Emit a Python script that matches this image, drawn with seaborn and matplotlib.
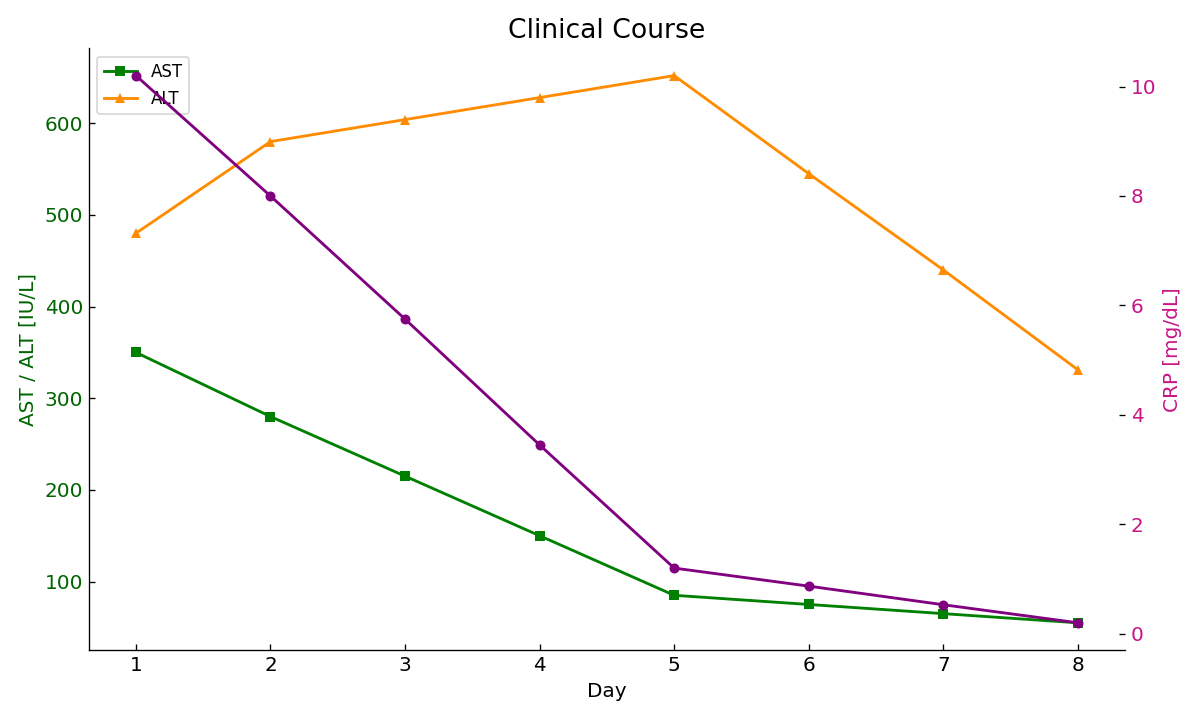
import matplotlib
matplotlib.use("Agg")
import matplotlib.pyplot as plt
import seaborn as sns
import pandas as pd

days = [1, 2, 3, 4, 5, 6, 7, 8]
ast = [350, 280, 215, 150, 85, 75, 65, 55]
alt = [480, 580, 604, 628, 652, 545, 440, 331]
crp = [10.2, 8.0, 5.75, 3.45, 1.2, 0.87, 0.53, 0.2]

df = pd.DataFrame({"Day": days, "AST": ast, "ALT": alt, "CRP": crp})

plt.rcParams['font.family'] = ['DejaVu Sans']
fig = plt.figure(figsize=(10, 6), dpi=120)
ax1 = fig.add_axes([0.074, 0.097, 0.8635, 0.836])
ax2 = ax1.twinx()

sns.lineplot(data=df, x="Day", y="AST", ax=ax1, color="green", marker="s",
             markersize=6, linewidth=1.7, markeredgewidth=0, label="AST")
sns.lineplot(data=df, x="Day", y="ALT", ax=ax1, color="darkorange", marker="^",
             markersize=6, linewidth=1.7, markeredgewidth=0, label="ALT")
sns.lineplot(data=df, x="Day", y="CRP", ax=ax2, color="purple", marker="o",
             markersize=6, linewidth=1.7, markeredgewidth=0, legend=False)

ax1.set_xlabel("Day", fontsize=12)
ax1.set_ylabel("AST / ALT [IU/L]", fontsize=12, color="darkgreen")
ax2.set_ylabel("CRP [mg/dL]", fontsize=12, color="mediumvioletred")
ax1.set_title("Clinical Course", fontsize=16)

ax1.set_xticks(days)
ax1.tick_params(axis="both", direction="in", labelsize=12)
ax1.tick_params(axis="y", labelcolor="darkgreen")
ax2.tick_params(axis="y", direction="in", labelsize=12, labelcolor="mediumvioletred")
ax2.set_yticks([0, 2, 4, 6, 8, 10])

for sp in ["top", "right"]:
    ax1.spines[sp].set_visible(False)
for sp in ["top", "right", "left", "bottom"]:
    ax2.spines[sp].set_visible(False)

ax1.legend(loc="upper left", fontsize=10)

fig.savefig("out.png", dpi=120)
